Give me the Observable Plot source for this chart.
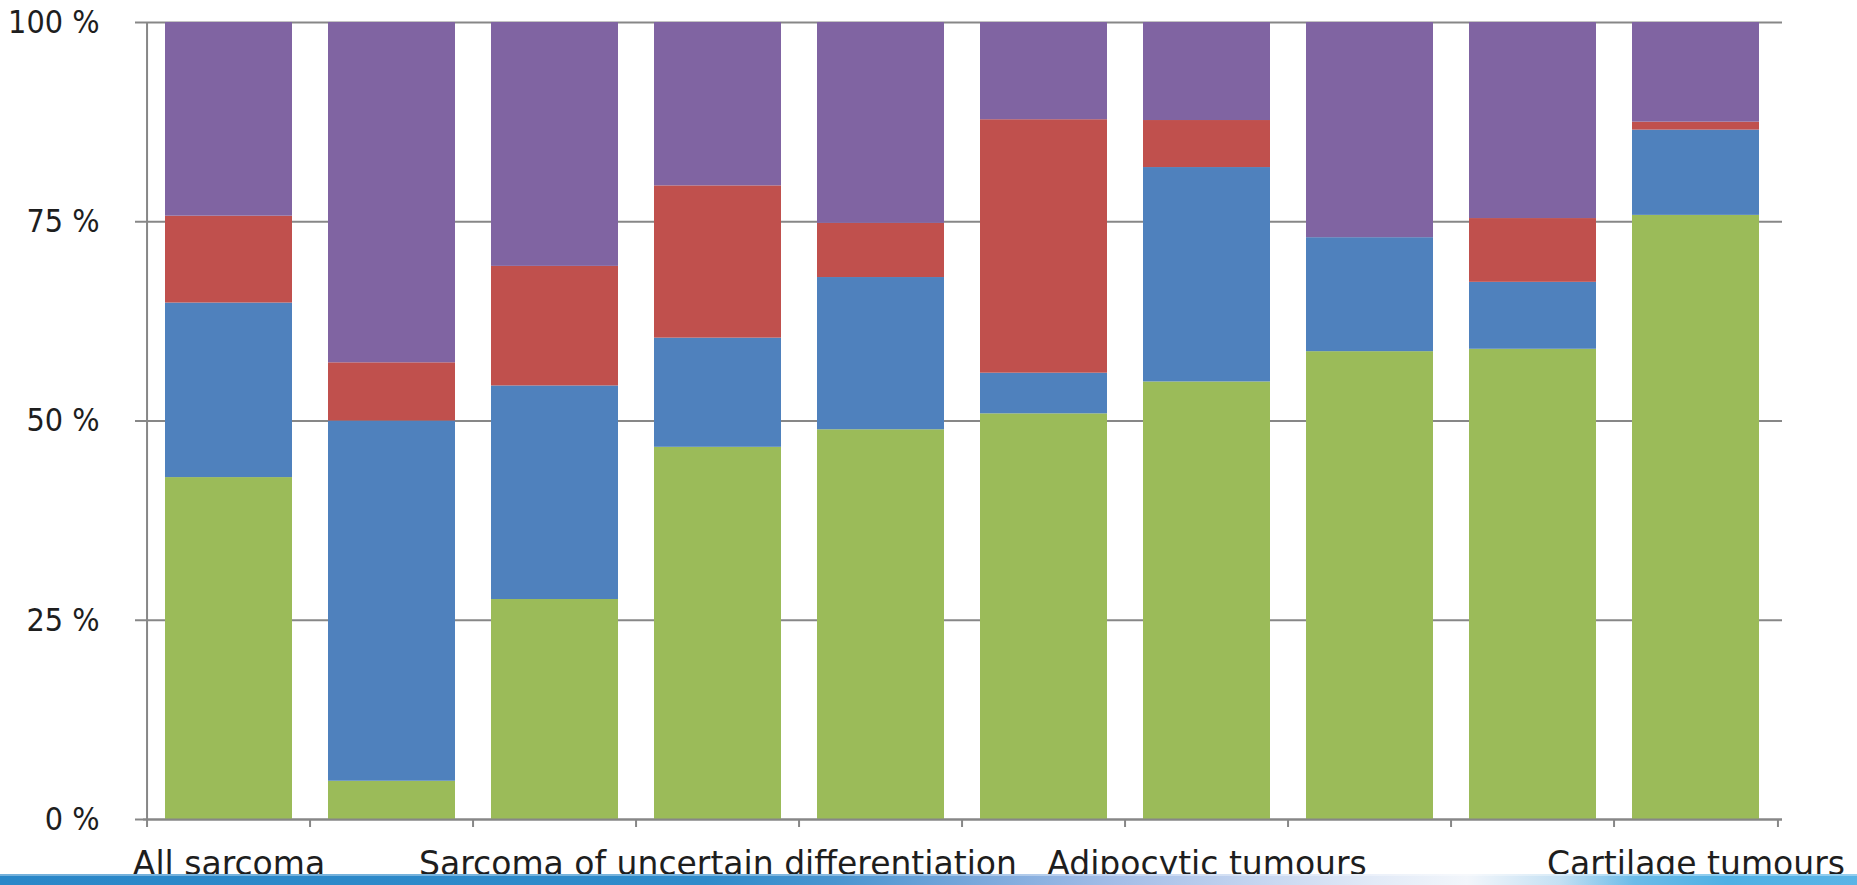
<!DOCTYPE html>
<html>
<head>
<meta charset="utf-8">
<script src="https://cdn.jsdelivr.net/npm/d3@7"></script>
<script src="https://cdn.jsdelivr.net/npm/@observablehq/plot@0.6"></script>
<style>
  html, body { margin: 0; padding: 0; background: #fff; overflow: hidden; }
  #wrap { position: relative; width: 1857px; height: 885px; }
  #band {
    position: absolute; left: 0; top: 874px; width: 1857px; height: 11px;
    background: linear-gradient(to right, #2a87c8 0%, #2f8bca 38%, #4a95d0 45%, #76a6da 52%, #a3bde7 60%, #c6d6f0 68%, #e2eaf7 74%, #f2f6fb 79%, #c4e0f3 84%, #6bbbe8 88%, #4fb0e4 93%, #5ab4e6 100%);
    box-shadow: inset 0 2px 0 rgba(255,255,255,0.35);
  }
</style>
</head>
<body>
<div id="wrap"><div id="chart"></div><div id="band"></div></div>
<script>
// Category tick labels (only every third category is labelled in the reference)
const categories = ["All sarcoma", "", "", "Sarcoma of uncertain differentiation", "", "", "Adipocytic tumours", "", "", "Cartilage tumours"];
// Series (bottom to top), percentages per category
const seriesNames = ["Series 1", "Series 2", "Series 3", "Series 4"];
const seriesGreen  = [42.9,  4.8, 27.6, 46.7, 48.9, 50.9, 54.9, 58.7, 59.0, 75.8];
const seriesBlue   = [21.9, 45.2, 26.8, 13.7, 19.1,  5.1, 26.9, 14.3,  8.4, 10.7];
const seriesRed    = [10.9,  7.3, 15.0, 19.1,  6.8, 31.8,  5.9,  0.0,  8.0,  1.0];
const seriesPurple = [24.3, 42.7, 30.6, 20.5, 25.2, 12.2, 12.3, 27.0, 24.6, 12.5];
const seriesColors = ["#9BBB59", "#4F81BD", "#C0504D", "#8064A2"];
const yTicks = [0, 25, 50, 75, 100];

const seriesValues = [seriesGreen, seriesBlue, seriesRed, seriesPurple];
const idx = categories.map((_, i) => i);
const rows = [];
idx.forEach(i => seriesNames.forEach((s, k) => rows.push({i, series: s, value: seriesValues[k][i]})));

const W = 1857, H = 885, mL = 143, mR = 75, mT = 22, mB = 66;
const step = (W - mL - mR) / categories.length;
const axisColor = "#878787";
const textColor = "#1e1e1e";

const chart = Plot.plot({
  width: W,
  height: H,
  marginLeft: mL,
  marginRight: mR,
  marginTop: mT,
  marginBottom: mB,
  style: {fontFamily: "'DejaVu Sans', sans-serif", background: "#fff", color: textColor, overflow: "visible"},
  x: {type: "band", domain: idx, paddingInner: 0.22, paddingOuter: 0.11, align: 0.5},
  y: {domain: [0, 100], label: null},
  color: {domain: seriesNames, range: seriesColors},
  marks: [
    Plot.gridY(yTicks, {stroke: axisColor, strokeOpacity: 1, strokeWidth: 2}),
    Plot.barY(rows, {x: "i", y: "value", fill: "series", order: null}),
    Plot.ruleY([0], {stroke: axisColor, strokeWidth: 2}),
    Plot.axisY(yTicks, {tickSize: 8, tickPadding: 36, stroke: axisColor, strokeWidth: 2, fill: textColor, fontSize: 32, fontFamily: "'DejaVu Sans Condensed', 'DejaVu Sans', sans-serif", tickFormat: d => `${d} %`, label: null}),
    Plot.axisX(idx, {tickSize: 0, tickPadding: 32, fontSize: 33, fill: textColor, tickFormat: i => categories[i], label: null}),
    Plot.ruleX([0], {x: d => d, y1: 100, y2: 0, dx: -step / 2, insetBottom: -8, stroke: axisColor, strokeWidth: 2}),
    Plot.ruleX(idx.slice(1), {x: d => d, y1: 0, y2: 0, dx: -step / 2, insetBottom: -8, stroke: axisColor, strokeWidth: 2}),
    Plot.ruleX([idx.length - 1], {x: d => d, y1: 0, y2: 0, dx: step / 2, insetBottom: -8, stroke: axisColor, strokeWidth: 2})
  ]
});
document.getElementById("chart").appendChild(chart);
</script>
</body>
</html>
